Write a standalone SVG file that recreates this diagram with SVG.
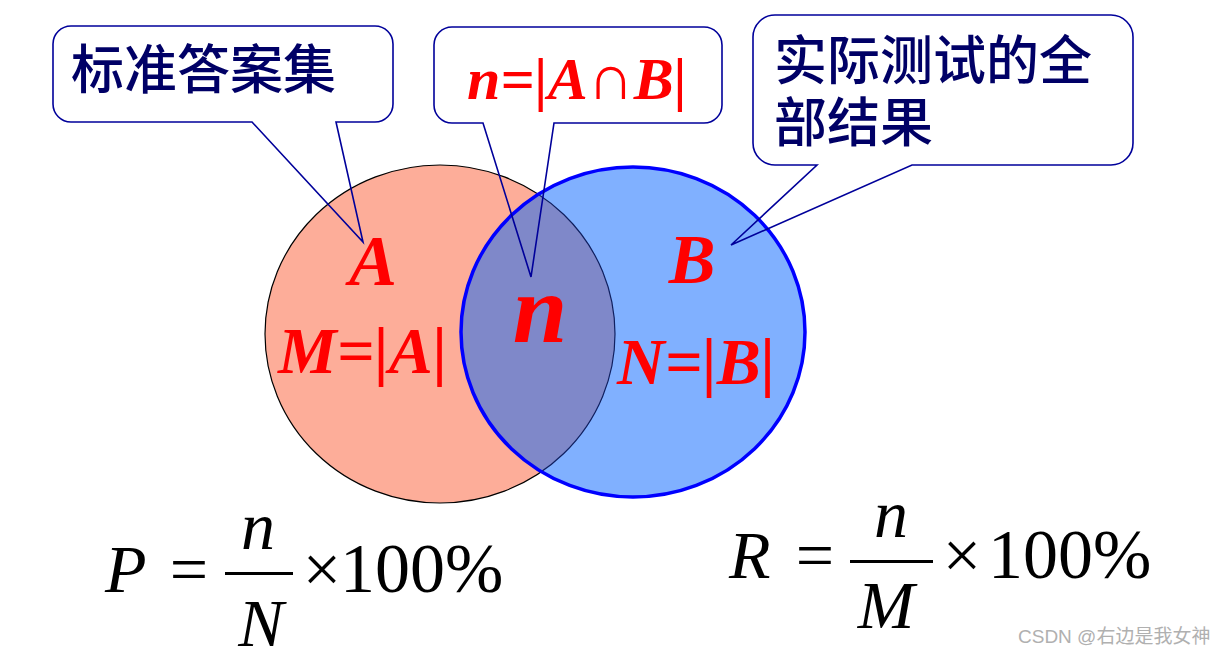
<svg xmlns="http://www.w3.org/2000/svg" width="1224" height="656" viewBox="0 0 1224 656">
<style>
.call{fill:none;stroke:#00009A;stroke-width:1.6;stroke-linejoin:miter}
.box{fill:#fff;stroke:none}
.cjk{font-family:"Noto Sans CJK SC","Noto Sans",sans-serif;fill:#000066;font-size:53px;font-weight:500}
.red{font-family:"Liberation Serif","Times New Roman",serif;fill:#FF0000;font-weight:bold;font-style:italic}
.up{font-style:normal}
.math{font-family:"Liberation Serif","Times New Roman",serif;fill:#000;font-size:68px}
.big{font-size:70px}
.it{font-style:italic}
</style>
<defs>
<clipPath id="clipB"><ellipse cx="633" cy="332" rx="172" ry="165"/></clipPath>
</defs>
<g id="setA"><ellipse cx="440" cy="334" rx="175" ry="169" fill="#FDAD99" stroke="#000" stroke-width="1.2"/></g>
<g id="setB"><ellipse cx="633" cy="332" rx="172" ry="165" fill="#80B0FF"/></g>
<g id="intersection">
<ellipse cx="440" cy="334" rx="175" ry="169" fill="#7F88C9" clip-path="url(#clipB)"/>
<ellipse cx="440" cy="334" rx="175" ry="169" fill="none" stroke="#102060" stroke-width="1.2" clip-path="url(#clipB)"/>
<ellipse cx="633" cy="332" rx="172" ry="165" fill="none" stroke="#0000FF" stroke-width="3.5"/>
</g>
<g id="labels">
<text class="red" x="373" y="285" font-size="72" text-anchor="middle">A</text>
<text class="red" x="278" y="373" font-size="66">M=|A|</text>
<text class="red" x="540" y="342" font-size="98" text-anchor="middle">n</text>
<text class="red" x="692" y="283" font-size="70" text-anchor="middle">B</text>
<text class="red" x="617" y="384" font-size="66">N=|B|</text>
</g>
<g id="connectors">
<g id="callout1">
<rect class="box" x="53" y="26" width="340" height="96" rx="18"/>
<path class="call" d="M71,26 H375 A18,18 0 0 1 393,44 V104 A18,18 0 0 1 375,122 H336 L363,242 L252,122 H71 A18,18 0 0 1 53,104 V44 A18,18 0 0 1 71,26 Z"/>
<text class="cjk" x="71" y="89">标准答案集</text>
</g>
<g id="callout2">
<rect class="box" x="434" y="27" width="288" height="96" rx="18"/>
<path class="call" d="M452,27 H704 A18,18 0 0 1 722,45 V105 A18,18 0 0 1 704,123 H554 L531,277 L483,123 H452 A18,18 0 0 1 434,105 V45 A18,18 0 0 1 452,27 Z"/>
<text class="red" x="467" y="99" font-size="60">n=|A<tspan class="up" font-size="64">∩</tspan>B|</text>
</g>
<g id="callout3">
<rect class="box" x="753" y="15" width="380" height="150" rx="22"/>
<path class="call" d="M775,15 H1111 A22,22 0 0 1 1133,37 V143 A22,22 0 0 1 1111,165 H912 L731,245 L817,165 H775 A22,22 0 0 1 753,143 V37 A22,22 0 0 1 775,15 Z"/>
<text class="cjk" x="774" y="80">实际测试的全</text>
<text class="cjk" x="774" y="142">部结果</text>
</g>
</g>
<g id="formulaP">
<text class="math it" x="105" y="592">P</text>
<text class="math" x="189" y="592" text-anchor="middle">=</text>
<rect x="225" y="572" width="68" height="3" fill="#000"/>
<text class="math it" x="258" y="549" text-anchor="middle">n</text>
<text class="math it" x="261" y="646" text-anchor="middle">N</text>
<text class="math" x="322" y="592" text-anchor="middle">×</text>
<text class="math big" x="340" y="592">100%</text>
</g>
<g id="formulaR">
<text class="math it" x="729" y="578">R</text>
<text class="math" x="815" y="578" text-anchor="middle">=</text>
<rect x="850" y="560" width="83" height="3" fill="#000"/>
<text class="math it" x="891" y="537" text-anchor="middle">n</text>
<text class="math it" x="886" y="628" text-anchor="middle">M</text>
<text class="math" x="962" y="578" text-anchor="middle">×</text>
<text class="math big" x="988" y="578">100%</text>
</g>
<text x="1018" y="643" font-family="'Liberation Sans','Noto Sans CJK SC',sans-serif" font-size="19" fill="#B0B0B0">CSDN @右边是我女神</text>
</svg>
